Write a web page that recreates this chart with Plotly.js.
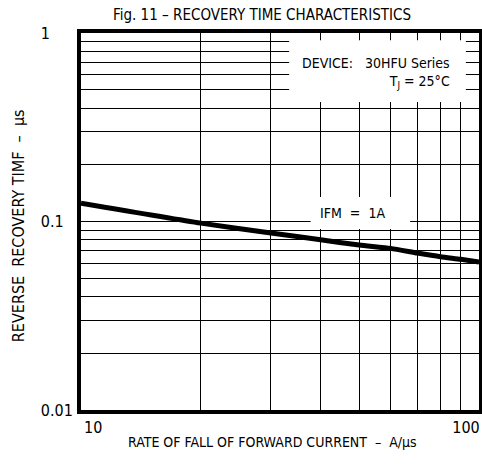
<!DOCTYPE html>
<html><head><meta charset="utf-8">
<script src="https://cdn.plot.ly/plotly-3.0.1.min.js"></script>
<style>html,body{margin:0;padding:0;background:#fff;overflow:hidden;}</style>
</head><body><div id="chart" style="width:482px;height:473px;"></div>
<script>
// Data
const rate = [10, 20, 30, 40, 50, 60, 70, 80, 90, 100];            // A/µs
const trr  = [0.125, 0.098, 0.087, 0.080, 0.075, 0.072, 0.068, 0.065, 0.063, 0.061]; // µs
const seriesLabel = 'IFM  =  1A';
const deviceLabel = 'DEVICE:\u00A0\u00A0 30HFU Series<br>T<sub>J</sub> = 25°C';
const xTitle = 'RATE OF FALL OF FORWARD CURRENT  –  A/µs';
const yTitle = 'REVERSE\u00A0 RECOVERY TIMF\u00A0 –\u00A0 µs';

const NB = '\u00A0';
const xTickVals = [10, 100];
const xTickText = [NB.repeat(11) + '10', '100'];
const yTickVals = [0.01, 0.1, 1];
const yTickText = ['0.01', '0.1' + NB.repeat(2), '1' + NB.repeat(5)];

const FONT = '"Liberation Sans Narrow", "DejaVu Sans Condensed", "Arial Narrow", sans-serif';

const trace = {
  x: rate, y: trr, type: 'scatter', mode: 'lines',
  line: {color: '#000', width: 5, shape: 'spline', smoothing: 0.6},
  hoverinfo: 'skip', showlegend: false
};

const gridCommon = {
  showgrid: true, gridcolor: '#000', gridwidth: 1,
  showline: true, mirror: true, linecolor: '#000', linewidth: 4,
  zeroline: false, ticks: '',
  minor: {dtick: 'D1', showgrid: true, gridcolor: '#000', gridwidth: 1, ticks: ''}
};

const layout = {
  width: 482, height: 473,
  margin: {l: 81, r: 3, t: 33, b: 63},
  paper_bgcolor: '#fff', plot_bgcolor: '#fff',
  font: {family: FONT, color: '#000', size: 14},
  title: {
    text: 'Fig. 11 – RECOVERY TIME CHARACTERISTICS',
    x: 0.5436, xref: 'container', xanchor: 'center',
    y: 0.968, yref: 'container', yanchor: 'middle',
    font: {family: FONT, size: 15, color: '#000'}
  },
  xaxis: Object.assign({}, gridCommon, {
    type: 'log', range: [1, 2], tickmode: 'array',
    tickvals: xTickVals, ticktext: xTickText,
    tickfont: {family: FONT, size: 16, color: '#000'},
    ticklabelstandoff: 0, ticklabelshift: -13
  }),
  yaxis: Object.assign({}, gridCommon, {
    type: 'log', range: [-2, 0], tickmode: 'array',
    tickvals: yTickVals, ticktext: yTickText,
    tickfont: {family: FONT, size: 16, color: '#000'},
    ticklabelstandoff: 1
  }),
  shapes: [
    {type: 'rect', xref: 'paper', yref: 'paper', x0: 0.523, x1: 0.967, y0: 0.817, y1: 0.981,
     fillcolor: '#fff', line: {width: 0}, layer: 'above'},
    {type: 'rect', xref: 'paper', yref: 'paper', x0: 0.577, x1: 0.827, y0: 0.48, y1: 0.565,
     fillcolor: '#fff', line: {width: 0}, layer: 'above'}
  ],
  annotations: [
    {text: deviceLabel, xref: 'paper', yref: 'paper', x: 0.932, y: 0.894,
     xanchor: 'right', yanchor: 'middle', align: 'right', showarrow: false,
     font: {family: FONT, size: 14, color: '#000'}},
    {text: seriesLabel, xref: 'paper', yref: 'paper', x: 0.683, y: 0.5225,
     xanchor: 'center', yanchor: 'middle', showarrow: false,
     font: {family: FONT, size: 14, color: '#000'}},
    {text: xTitle, xref: 'paper', yref: 'paper', x: 0.482, y: -0.0849,
     xanchor: 'center', yanchor: 'middle', showarrow: false,
     font: {family: FONT, size: 14, color: '#000'}},
    {text: yTitle, xref: 'paper', yref: 'paper', x: -0.158, y: 0.488, textangle: -90,
     xanchor: 'center', yanchor: 'middle', showarrow: false,
     font: {family: FONT, size: 16, color: '#000'}}
  ]
};

Plotly.newPlot('chart', [trace], layout, {displayModeBar: false, staticPlot: true});
</script>
</body></html>
